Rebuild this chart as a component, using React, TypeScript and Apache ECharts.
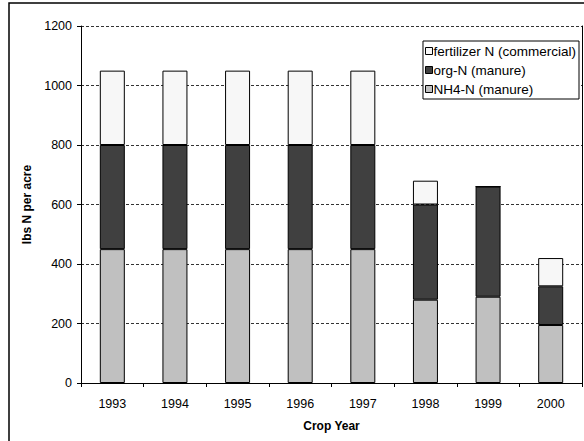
import React, { useEffect, useRef } from "react";
import * as echarts from "echarts";

// Crop years on the category axis
const years = ["1993", "1994", "1995", "1996", "1997", "1998", "1999", "2000"];

// Nitrogen applied per source, lbs N per acre (stacked bottom to top)
const nh4Manure = [450, 450, 450, 450, 450, 280, 290, 195];
const orgManure = [350, 350, 350, 350, 350, 320, 370, 130];
const fertilizer = [250, 250, 250, 250, 250, 80, 0, 95];

const seriesNames = {
  fert: "fertilizer N (commercial)",
  org: "org-N (manure)",
  nh4: "NH4-N (manure)",
};

const FONT = "Arial, 'Liberation Sans', sans-serif";

export default function App() {
  const ref = useRef<HTMLDivElement>(null);

  useEffect(() => {
    document.body.style.margin = "0";
    if (!ref.current) return;
    const chart = echarts.init(ref.current, undefined, { renderer: "svg" });

    const barStyle = (color: string) => ({
      color,
      borderColor: "#000",
      borderWidth: 1,
    });

    chart.setOption({
      animation: false,
      backgroundColor: "#fff",
      textStyle: { fontFamily: FONT, color: "#000" },
      graphic: [
        {
          type: "rect",
          shape: { x: 9, y: 3, width: 700, height: 600 },
          style: { fill: "none", stroke: "#000", lineWidth: 1.5 },
          silent: true,
        },
      ],
      grid: { left: 81, right: 2, top: 26, bottom: 58, containLabel: false },
      legend: {
        orient: "vertical",
        right: 5,
        top: 41,
        data: [seriesNames.fert, seriesNames.org, seriesNames.nh4],
        itemWidth: 7,
        itemHeight: 7,
        itemGap: 5,
        padding: [3, 3, 3, 2],
        backgroundColor: "#fff",
        borderColor: "#000",
        borderWidth: 1,
        borderRadius: 0,
        icon: "rect",
        itemStyle: { borderColor: "#000", borderWidth: 1 },
        textStyle: { fontFamily: FONT, fontSize: 13.5, color: "#000", padding: [0, 0, 0, -4] },
      },
      xAxis: {
        type: "category",
        data: years,
        name: "Crop Year",
        nameLocation: "middle",
        nameGap: 37,
        nameTextStyle: { fontFamily: FONT, fontSize: 12, fontWeight: "bold", color: "#000" },
        axisLine: { lineStyle: { color: "#000", width: 1 } },
        axisTick: { show: true, alignWithLabel: false, length: 4, lineStyle: { color: "#000" } },
        axisLabel: { fontFamily: FONT, fontSize: 12.5, color: "#000", margin: 14 },
      },
      yAxis: [
        {
          type: "value",
          min: 0,
          max: 1200,
          interval: 200,
          name: "lbs N per acre",
          nameLocation: "middle",
          nameGap: 43,
          nameTextStyle: { fontFamily: FONT, fontSize: 12, fontWeight: "bold", color: "#000" },
          axisLine: { show: true, lineStyle: { color: "#000", width: 1 } },
          axisTick: { show: true, length: 4, lineStyle: { color: "#000" } },
          axisLabel: {
            fontFamily: FONT,
            fontSize: 12.5,
            color: "#000",
            margin: 9,
            formatter: (v: number) => String(v),
          },
          splitLine: { show: true, lineStyle: { color: "#333", type: [3, 2], width: 1 } },
        },
        {
          type: "value",
          min: 0,
          max: 1200,
          interval: 200,
          position: "right",
          axisLine: { show: true, lineStyle: { color: "#000", width: 1 } },
          axisTick: { show: false },
          axisLabel: { show: false },
          splitLine: { show: false },
        },
      ],
      series: [
        {
          name: seriesNames.nh4,
          type: "bar",
          stack: "n",
          barWidth: 25,
          data: nh4Manure,
          itemStyle: barStyle("#c0c0c0"),
        },
        {
          name: seriesNames.org,
          type: "bar",
          stack: "n",
          barWidth: 25,
          data: orgManure,
          itemStyle: barStyle("#404040"),
        },
        {
          name: seriesNames.fert,
          type: "bar",
          stack: "n",
          barWidth: 25,
          data: fertilizer,
          itemStyle: barStyle("#f7f7f7"),
        },
      ],
    });

    return () => chart.dispose();
  }, []);

  return <div ref={ref} style={{ width: 584, height: 441 }} />;
}
